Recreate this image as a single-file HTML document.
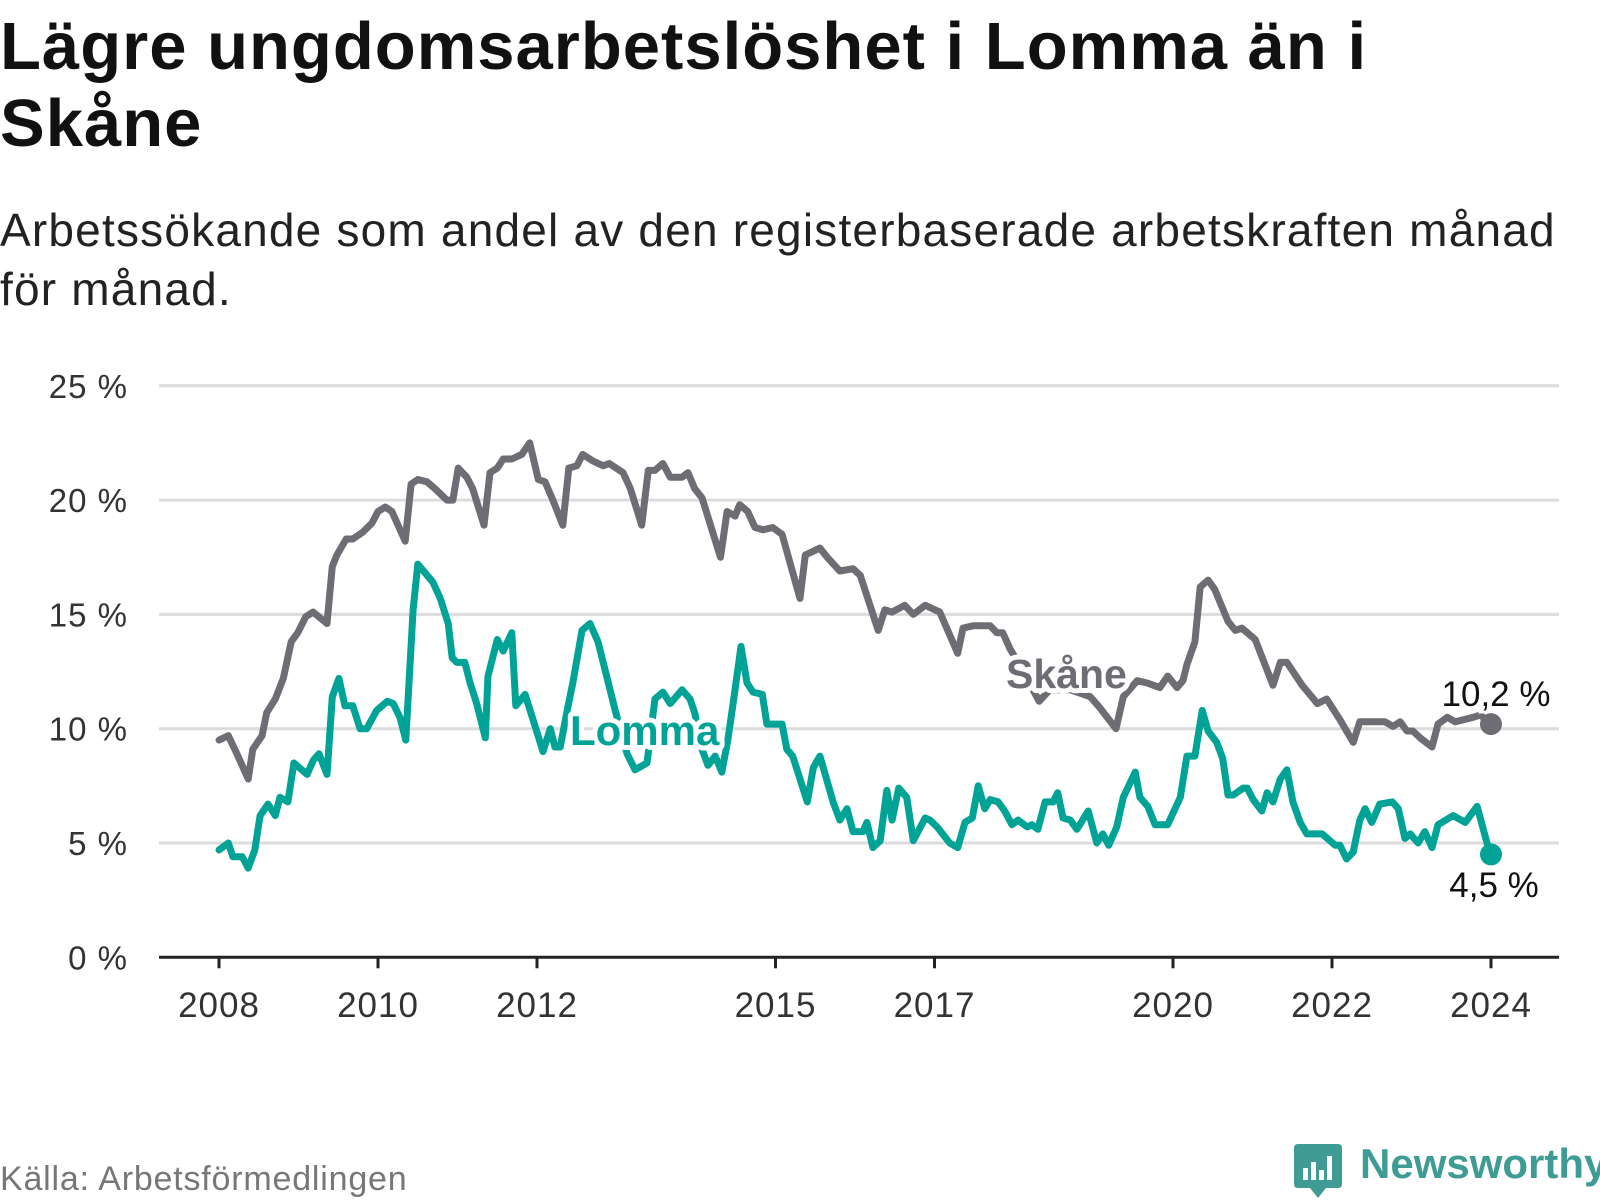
<!DOCTYPE html>
<html><head><meta charset="utf-8"><style>
html,body{margin:0;padding:0;background:#fff;}
body{width:1600px;height:1200px;position:relative;overflow:hidden;font-family:"Liberation Sans",sans-serif;}
.t{position:absolute;white-space:nowrap;}
</style></head><body>
<div class="t" style="left:0;top:8px;font-size:67px;font-weight:bold;color:#111;line-height:77px;letter-spacing:1px;">Lägre ungdomsarbetslöshet i Lomma än i<br>Skåne</div>
<div class="t" style="left:0;top:201px;font-size:46px;color:#222;line-height:59px;letter-spacing:1.2px;">Arbetssökande som andel av den registerbaserade arbetskraften månad<br>för månad.</div>
<svg id="chart" width="1600" height="1200" style="position:absolute;left:0;top:0;" xmlns="http://www.w3.org/2000/svg"></svg>
<div class="t" style="left:0;top:1160px;font-size:34px;color:#777;letter-spacing:0.8px;">Källa: Arbetsförmedlingen</div>
<svg width="48" height="56" style="position:absolute;left:1294px;top:1144px;">
<path d="M4 0 H44 Q48 0 48 4 V40 Q48 44 44 44 H32 L24 54 L16 44 H4 Q0 44 0 40 V4 Q0 0 4 0Z" fill="#3e9c94"/>
<rect x="9" y="24" width="5" height="12" fill="#fff"/><rect x="17" y="18" width="5" height="18" fill="#fff"/><rect x="25" y="26" width="5" height="10" fill="#fff"/><rect x="33" y="12" width="5" height="24" fill="#fff"/>
</svg>
<div class="t" style="left:1360px;top:1140px;font-size:42px;font-weight:bold;color:#3e9c94;">Newsworthy</div>
<script>
const yTicks=[0,5,10,15,20,25];
const yTickLabels=["0 %","5 %","10 %","15 %","20 %","25 %"];
const xTickYears=[2008,2010,2012,2015,2017,2020,2022,2024];
const skaneMonths=[0,1.4,2.7,4.4,5.1,6.5,7.2,8.5,9.7,10.9,11.9,13.1,14.2,16.3,17.1,17.8,19.2,20.2,21.7,23.1,24,25.1,26.1,28.1,29,30,31.4,32.6,34.4,35.3,36.1,37.4,38.3,40,40.9,42,42.9,44.2,45.7,46.9,48.2,49.2,50.4,51.9,52.8,54,54.9,56.5,58,58.9,61,62.1,63.8,64.8,65.8,67,68.1,69.9,70.8,71.8,72.9,75.7,76.7,77.9,78.6,79.8,80.9,82.1,83.6,85,87.7,88.5,90.7,91.8,93.7,95.7,96.8,99.5,100.5,101.6,103.5,104.8,106.6,108.8,111.5,112.3,113.8,116.4,117.4,118.3,119.4,121.2,123.8,125.4,128.5,131.5,133,135.4,136.5,138.6,140.1,142,143.2,144.6,145.5,146.1,147.3,148.1,149.3,150.3,152.3,153.4,154.4,155.2,156.4,159.1,160.2,161.2,163.5,165.8,167.2,169.2,171.2,172.2,176,177.2,178.3,179.3,180.2,181.3,183.1,184,185.4,186.6,189.3,190.4,192];
const skaneValues=[9.5,9.7,8.9,7.8,9.1,9.7,10.7,11.3,12.2,13.8,14.2,14.9,15.1,14.6,17.1,17.6,18.3,18.3,18.6,19.0,19.5,19.7,19.5,18.2,20.7,20.9,20.8,20.5,20.0,20.0,21.4,21.0,20.5,18.9,21.2,21.4,21.8,21.8,22.0,22.5,20.9,20.8,20.0,18.9,21.4,21.5,22.0,21.7,21.5,21.6,21.2,20.5,18.9,21.3,21.3,21.6,21.0,21.0,21.2,20.5,20.1,17.5,19.5,19.3,19.8,19.5,18.8,18.7,18.8,18.5,15.7,17.6,17.9,17.5,16.9,17.0,16.7,14.3,15.2,15.1,15.4,15.0,15.4,15.1,13.3,14.4,14.5,14.5,14.2,14.2,13.5,12.6,11.2,11.7,11.7,11.4,10.9,10.0,11.4,12.1,12.0,11.8,12.3,11.8,12.1,12.8,13.8,16.2,16.5,16.1,14.7,14.3,14.4,14.2,13.9,11.9,12.9,12.9,11.9,11.1,11.3,10.4,9.4,10.3,10.3,10.1,10.3,9.9,9.9,9.6,9.2,10.2,10.5,10.3,10.5,10.6,10.2];
const lommaMonths=[0,1.4,2.1,3.5,4.4,5.4,6.2,7.4,8.5,9.2,10.4,11.3,13.3,14.2,15.1,16.3,17.1,18.1,19,20.2,21.3,22.3,23.8,25.4,26.3,27.3,28.2,29.3,30,32.3,33.4,34.6,35.2,35.9,37.1,37.9,38.9,40.2,40.6,42,42.9,44.2,44.8,46.2,47.4,48.9,50,50.7,51.5,52.7,53.4,54.8,56,57.2,58.6,59.8,61.6,62.8,64.6,65.8,67,68.1,69.9,71.1,71.8,72.9,73.8,74.9,75.9,76.8,77.6,78.8,79.7,80.6,82,82.7,85,85.7,86.6,88.8,89.7,90.7,92.7,93.7,94.8,95.7,97.2,97.8,98.7,99.8,100.8,101.6,102.6,103.8,104.8,106.6,107.3,108.4,110.3,111.5,112.6,113.7,114.6,115.6,116.4,117.6,118.6,119.7,120.6,122,122.7,123.6,124.7,125.9,126.6,127.4,128.5,129.5,131.2,132.5,133.4,134.3,135.5,136.5,138.3,139,140.2,141.3,143.2,145.1,146.1,147.3,148.4,149.3,150.6,151.5,152.3,153.1,154.6,155.2,156.1,157.4,158.2,159.1,160.2,161.2,162.1,163.2,164.2,166.5,168.5,169.2,170.2,171.2,172.2,173,174,175.2,177.1,178,179,179.8,181,182,183.1,184,186.3,188.1,189.9,191.4,192];
const lommaValues=[4.7,5.0,4.4,4.4,3.9,4.7,6.2,6.7,6.2,7.0,6.8,8.5,8.0,8.6,8.9,8.0,11.4,12.2,11.0,11.0,10.0,10.0,10.8,11.2,11.1,10.5,9.5,15.2,17.2,16.4,15.7,14.6,13.1,12.9,12.9,12.0,11.1,9.6,12.3,13.9,13.4,14.2,11.0,11.5,10.4,9.0,10.0,9.2,9.2,11.0,12.0,14.3,14.6,13.8,12.2,10.8,8.9,8.2,8.5,11.3,11.6,11.1,11.7,11.3,10.7,9.1,8.4,8.8,8.1,9.5,11.1,13.6,12.0,11.6,11.5,10.2,10.2,9.1,8.8,6.8,8.3,8.8,6.8,6.0,6.5,5.5,5.5,5.9,4.8,5.1,7.3,6.0,7.4,7.0,5.1,6.1,6.0,5.7,5.0,4.8,5.9,6.1,7.5,6.5,6.9,6.8,6.4,5.8,6.0,5.7,5.8,5.6,6.8,6.8,7.2,6.1,6.0,5.6,6.4,5.0,5.4,4.9,5.7,7.0,8.1,7.0,6.6,5.8,5.8,7.0,8.8,8.8,10.8,9.9,9.4,8.7,7.1,7.1,7.4,7.4,6.9,6.4,7.2,6.8,7.8,8.2,6.8,5.9,5.4,5.4,4.9,4.9,4.3,4.6,6.0,6.5,5.9,6.7,6.8,6.5,5.2,5.4,5.0,5.5,4.8,5.8,6.2,5.9,6.6,5.0,4.5];
const NS="http://www.w3.org/2000/svg";
const svg=document.getElementById('chart');
const X0=219,PX_MONTH=6.625,Y0=957.3,PX_PCT=22.86,GL=159,GR=1559;
const xm=m=>X0+m*PX_MONTH;
const xy=y=>xm((y-2008)*12);
const yv=v=>Y0-v*PX_PCT;
function mk(tag,attrs,parent){const e=document.createElementNS(NS,tag);for(const k in attrs)e.setAttribute(k,attrs[k]);(parent||svg).appendChild(e);return e;}
yTicks.forEach((t,i)=>{
  if(t>0){const g=mk('line',{x1:GL,x2:GR,y1:yv(t),y2:yv(t),stroke:'#dcdcdc','stroke-width':3});
  
  }
  const l=mk('text',{x:128,y:yv(t)+12,'text-anchor':'end','font-size':33,'letter-spacing':1,fill:'#333','font-family':'Liberation Sans, sans-serif'});
  l.textContent=yTickLabels[i];
  
  
});
const ax=mk('line',{x1:GL,x2:GR,y1:yv(0),y2:yv(0),stroke:'#222','stroke-width':3});


xTickYears.forEach(yr=>{
  const tk=mk('line',{x1:xy(yr),x2:xy(yr),y1:yv(0),y2:yv(0)+11,stroke:'#222','stroke-width':3});
  
  
  const l=mk('text',{x:xy(yr),y:1017,'text-anchor':'middle','font-size':35,'letter-spacing':1,fill:'#333','font-family':'Liberation Sans, sans-serif'});
  l.textContent=String(yr);
  
  
});
function pts(ms,vs){return ms.map((m,i)=>xm(m).toFixed(1)+','+yv(vs[i]).toFixed(1)).join(' ');}
const sk=mk('polyline',{points:pts(skaneMonths,skaneValues),fill:'none',stroke:'#6e6d74','stroke-width':7,'stroke-linejoin':'round','stroke-linecap':'round'});


const lo=mk('polyline',{points:pts(lommaMonths,lommaValues),fill:'none',stroke:'#00a396','stroke-width':7,'stroke-linejoin':'round','stroke-linecap':'round'});


function label(txt,x,y,col,name,fs){
  const t=mk('text',{x:x,y:y,'font-size':fs,'font-weight':'bold',fill:col,stroke:'#fff','stroke-width':10,'paint-order':'stroke','stroke-linejoin':'round','font-family':'Liberation Sans, sans-serif'});
  t.textContent=txt;
  
  
}
label('Skåne',1006,688,'#6e6d74','skane-series-label',41);
label('Lomma',570,745,'#00a396','lomma-series-label',42);
const sl=skaneMonths.length-1, ll=lommaMonths.length-1;
const d1=mk('circle',{cx:xm(skaneMonths[sl]),cy:yv(skaneValues[sl]),r:11,fill:'#6e6d74'});


const d2=mk('circle',{cx:xm(lommaMonths[ll]),cy:yv(lommaValues[ll]),r:11,fill:'#00a396'});


const fmt=v=>v.toFixed(1).replace('.',',')+' %';
const e1=mk('text',{x:1496,y:706,'text-anchor':'middle','font-size':35,fill:'#111',stroke:'#fff','stroke-width':6,'paint-order':'stroke','font-family':'Liberation Sans, sans-serif'});
e1.textContent=fmt(skaneValues[sl]);


const e2=mk('text',{x:1494,y:897,'text-anchor':'middle','font-size':35,fill:'#111',stroke:'#fff','stroke-width':6,'paint-order':'stroke','font-family':'Liberation Sans, sans-serif'});
e2.textContent=fmt(lommaValues[ll]);


</script>
</body></html>
